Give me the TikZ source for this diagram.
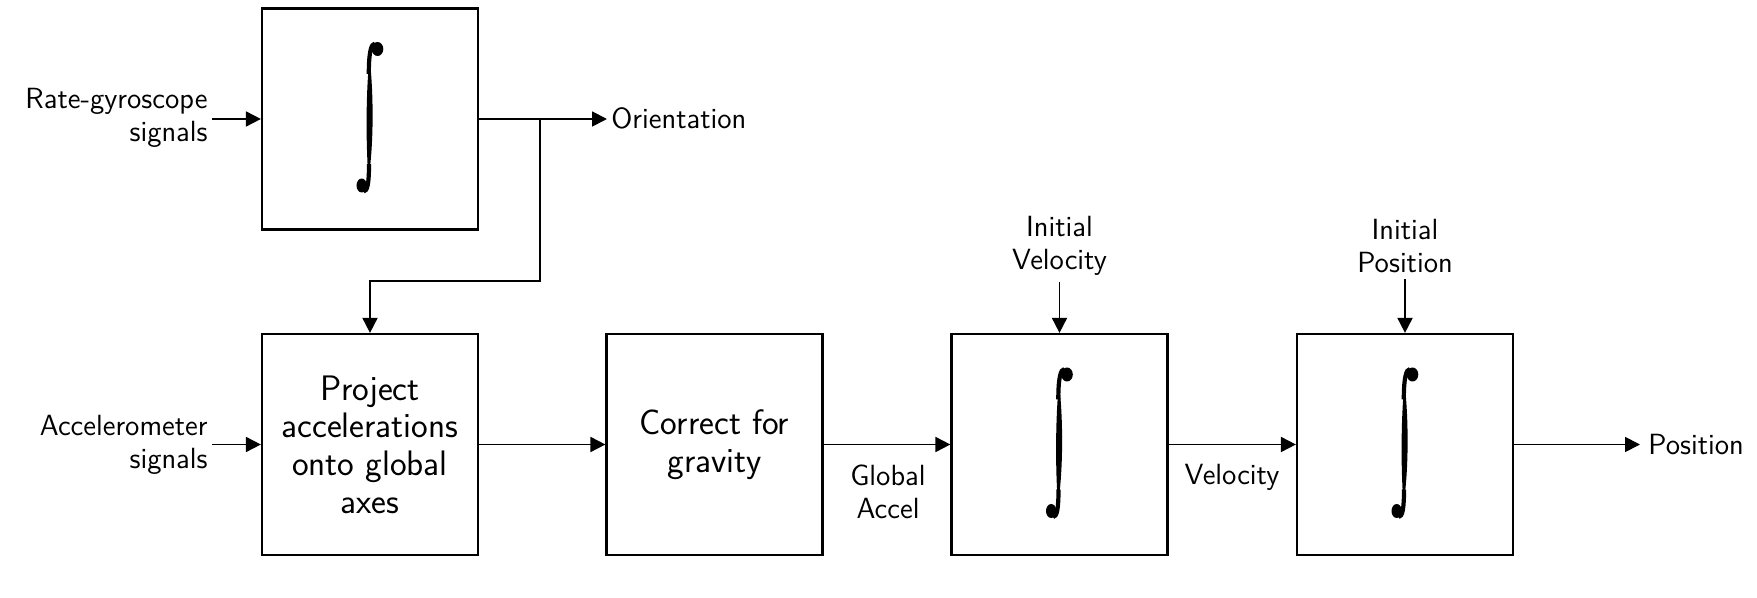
\documentclass[tikz,border=0pt]{standalone}
\usetikzlibrary{arrows.meta,calc}
\begin{document}
\begin{tikzpicture}[x=0.5pt,y=-0.5pt,
  font=\sffamily,
  blk/.style={draw,line width=1.1pt,minimum width=108pt,minimum height=110.5pt,inner sep=0pt,align=center,
    font=\sffamily\fontsize{17.7}{18.8}\selectfont},
  lbl/.style={inner sep=2pt,font=\sffamily\fontsize{14.6}{16.4}\selectfont},
  arr/.style={line width=0.9pt,-{Triangle[length=7.5pt,width=7.5pt]}},
  integ/.pic={
    \fill (-0.5,-62) .. controls (3.8,-25) and (3.8,25) .. (-1.5,60)
               .. controls (-4.2,25) and (-4.2,-25) .. (-0.5,-62) -- cycle;
    \draw[line width=2.1pt] (-1.2,-45) .. controls (-1.2,-66) and (1,-75.5) .. (5,-75.5);
    \fill (7.5,-70) ellipse[x radius=5.8,y radius=7];
    \draw[line width=2.1pt] (-1,45) .. controls (-1,64) and (-2.5,72.5) .. (-6.5,72.5);
    \fill (-8.3,66.5) ellipse[x radius=5.2,y radius=7];
  }]
\useasboundingbox (0,0) rectangle (1757,598);
\node[blk] (gyro) at (370,119) {};
\node[blk] (proj) at (370,444.5) {Project\\accelerations\\onto global\\axes};
\node[blk] (grav) at (714.5,444.5) {Correct for\\gravity};
\node[blk] (int1) at (1059.5,444.5) {};
\node[blk] (int2) at (1405,444.5) {};
\pic at (gyro.center) {integ};
\pic at (int1.center) {integ};
\pic at (int2.center) {integ};

\node[lbl,anchor=east,align=right] (gyrol) at (212,118) {Rate-gyroscope\\signals};
\node[lbl,anchor=east,align=right] (accl) at (212,445) {Accelerometer\\signals};
\node[lbl,anchor=west] (orient) at (607,118) {Orientation};
\node[lbl,anchor=west,inner sep=4pt] (pos) at (1640,445) {Position};
\node[lbl,align=center,inner sep=3pt] (ivel) at (1059.5,246) {Initial\\Velocity};
\node[lbl,align=center,inner sep=3pt] (ipos) at (1405,246) {Initial\\Position};
\node[lbl,align=center] (gacc) at (888,492) {Global\\Accel};
\node[lbl] (vel) at (1232,477) {Velocity};

\coordinate (j) at (540,119);
\coordinate (k) at (370,281);

\draw[arr] (gyrol.east |- gyro.west) -- (gyro.west);
\draw[arr] (accl.east |- proj.west) -- (proj.west);
\draw[arr] (gyro.east) -- (gyro.east -| orient.west);
\draw[arr] (j) |- (k) -- (proj.north);
\draw[arr] (proj.east) -- (grav.west);
\draw[arr] (grav.east) -- (int1.west);
\draw[arr] (int1.east) -- (int2.west);
\draw[arr] (int2.east) -- (int2.east -| pos.west);
\draw[arr] (ivel.south) -- (int1.north);
\draw[arr] (ipos.south) -- (int2.north);
\end{tikzpicture}
\end{document}
